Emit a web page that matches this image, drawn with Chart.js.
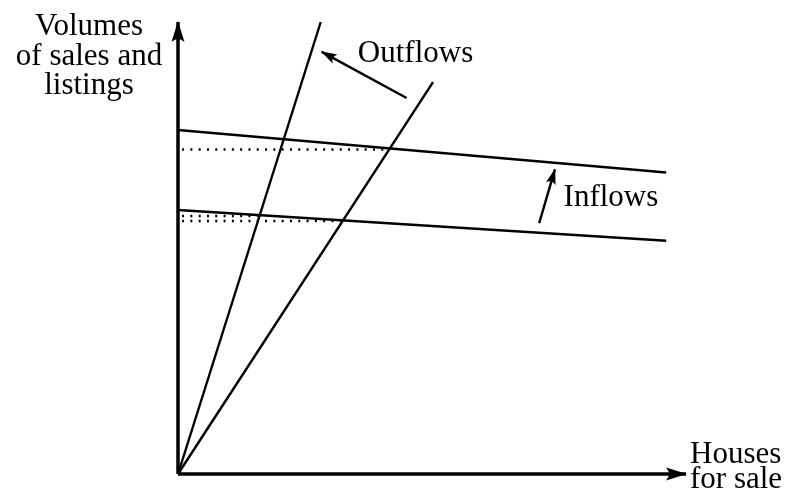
<!DOCTYPE html>
<html>
<head>
<meta charset="utf-8">
<script src="https://cdn.jsdelivr.net/npm/chart.js@4/dist/chart.umd.min.js"></script>
<style>
  body { margin: 0; background: #fff; }
</style>
</head>
<body>
<canvas id="myChart" width="792" height="499"></canvas>
<script>
// Diagram data (abstract units, 0-100 on both axes)
const xAxisPts = [{x: 0, y: 0}, {x: 100, y: 0}];
const yAxisPts = [{x: 0, y: 0}, {x: 0, y: 100}];

const outflowSteep = [{x: 0, y: 0}, {x: 28.1, y: 100}];
const outflowFlat = [{x: 0, y: 0}, {x: 50.2, y: 86.7}];

const inflowHigh = [{x: 0, y: 76.1}, {x: 96.1, y: 66.7}];
const inflowLow = [{x: 0, y: 58.4}, {x: 96.1, y: 51.6}];

const dotHigh = [{x: 0.8, y: 71.8}, {x: 41.5, y: 71.8}];
const dotLowA = [{x: 0.8, y: 57.1}, {x: 15.7, y: 57.1}];
const dotLowB = [{x: 0.8, y: 56.0}, {x: 32.5, y: 56.0}];

const outflowArrow = [{x: 45.0, y: 83.2}, {x: 28.3, y: 93.4}];
const inflowArrow = [{x: 71.1, y: 55.5}, {x: 74.2, y: 67.4}];

// text labels: [text, x, y, align]
const labels = [
    ['Outflows', 35.4, 91.2, 'left'],
    ['Inflows', 75.9, 59.3, 'left']
];

function seg(data, width, extra) {
    return Object.assign({
        type: 'line',
        data: data,
        borderColor: '#000',
        borderWidth: width,
        pointRadius: 0,
        fill: false,
        clip: false,
        tension: 0
    }, extra || {});
}

// draws arrow heads and the text
const diagramPlugin = {
    id: 'diagram',
    afterDatasetsDraw(chart) {
        const ctx = chart.ctx;
        chart.data.datasets.forEach((ds, i) => {
            if (!ds.arrow) return;
            const pts = chart.getDatasetMeta(i).data;
            const a = pts[pts.length - 2], b = pts[pts.length - 1];
            const ang = Math.atan2(b.y - a.y, b.x - a.x);
            const len = ds.arrow.len, w = ds.arrow.w;
            ctx.save();
            ctx.translate(b.x, b.y);
            ctx.rotate(ang);
            ctx.fillStyle = '#000';
            ctx.beginPath();
            ctx.moveTo(1, 0);
            ctx.lineTo(-len, -w / 2);
            ctx.quadraticCurveTo(-len * 0.7, 0, -len, w / 2);
            ctx.closePath();
            ctx.fill();
            ctx.restore();
        });

        const xs = chart.scales.x, ys = chart.scales.y;
        ctx.save();
        ctx.fillStyle = '#000';
        ctx.font = '31px "Liberation Serif", serif';
        ctx.textBaseline = 'alphabetic';
        labels.forEach(l => {
            ctx.textAlign = l[3];
            ctx.fillText(l[0], xs.getPixelForValue(l[1]), ys.getPixelForValue(l[2]));
        });
        // y axis title
        ctx.textAlign = 'center';
        const yx = xs.getPixelForValue(0) - 89;
        const yt = ys.getPixelForValue(100);
        ['Volumes', 'of sales and', 'listings'].forEach((t, k) => {
            ctx.fillText(t, yx, yt + 13 + k * 29.5);
        });
        // x axis title
        ctx.textAlign = 'left';
        const xx = xs.getPixelForValue(100) + 4;
        const xb = ys.getPixelForValue(0);
        ctx.fillText('Houses', xx, xb - 11);
        ctx.fillText('for sale', xx, xb + 14);
        ctx.restore();
    }
};

const ctx = document.getElementById('myChart').getContext('2d');
const myChart = new Chart(ctx, {
    type: 'line',
    data: {
        datasets: [
            seg(dotHigh, 2.5, {borderDash: [2, 6.3]}),
            seg(dotLowA, 2.5, {borderDash: [2, 6.3]}),
            seg(dotLowB, 2.5, {borderDash: [2, 6.3]}),
            seg(outflowSteep, 2.4),
            seg(outflowFlat, 2.4),
            seg(inflowHigh, 2.4),
            seg(inflowLow, 2.4),
            seg(outflowArrow, 2.4, {arrow: {len: 15, w: 10}}),
            seg(inflowArrow, 2.4, {arrow: {len: 15, w: 10}}),
            seg(xAxisPts, 3.5, {arrow: {len: 20, w: 13}}),
            seg(yAxisPts, 3.5, {arrow: {len: 20, w: 13}})
        ]
    },
    options: {
        responsive: false,
        animation: false,
        layout: {
            padding: {left: 178, right: 106, top: 22, bottom: 25}
        },
        scales: {
            x: {type: 'linear', min: 0, max: 100, display: false},
            y: {type: 'linear', min: 0, max: 100, display: false}
        },
        plugins: {
            legend: {display: false},
            tooltip: {enabled: false}
        }
    },
    plugins: [diagramPlugin]
});
</script>
</body>
</html>
